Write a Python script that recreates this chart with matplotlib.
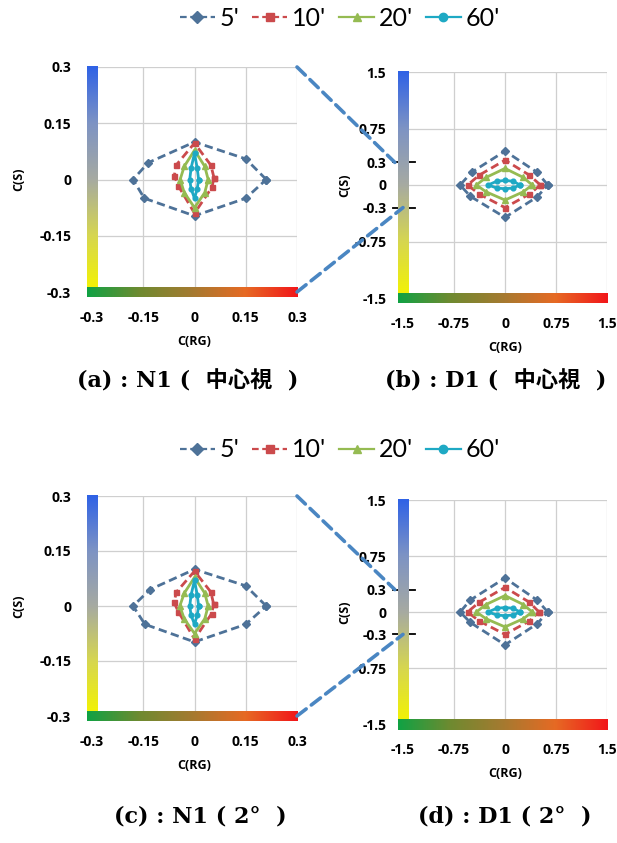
import numpy as np
import matplotlib
matplotlib.use("Agg")
import matplotlib.pyplot as plt
from matplotlib.patches import ConnectionPatch
from matplotlib.colors import LinearSegmentedColormap
from matplotlib.lines import Line2D

plt.rcParams['font.family'] = ['Lato', 'DejaVu Sans']

W, H = 617, 843

series = ["5'", "10'", "20'", "60'"]

# ---- data: C(RG) and C(S) per panel and series (8 directions, loop closed in code)
a_rg = {"5'": [0.21, 0.15, 0.0, -0.135, -0.18, -0.147, 0.0, 0.15],
        "10'": [0.057, 0.048, 0.0, -0.054, -0.059, -0.048, 0.0, 0.051],
        "20'": [0.040, 0.030, 0.0, -0.030, -0.042, -0.030, 0.0, 0.030],
        "60'": [0.012, 0.008, 0.0, -0.010, -0.014, -0.010, 0.0, 0.008]}
a_s = {"5'": [0.0, 0.055, 0.10, 0.045, 0.0, -0.05, -0.097, -0.05],
       "10'": [0.005, 0.038, 0.097, 0.038, 0.01, -0.016, -0.09, -0.021],
       "20'": [0.0, 0.035, 0.078, 0.035, 0.0, -0.035, -0.075, -0.035],
       "60'": [0.0, 0.030, 0.070, 0.030, 0.0, -0.025, -0.050, -0.025]}

b_rg = {"5'": [0.63, 0.47, 0.0, -0.49, -0.66, -0.51, 0.0, 0.47],
        "10'": [0.52, 0.36, 0.0, -0.38, -0.55, -0.38, 0.0, 0.36],
        "20'": [0.40, 0.27, 0.0, -0.28, -0.42, -0.28, 0.0, 0.27],
        "60'": [0.22, 0.12, 0.0, -0.12, -0.25, -0.12, 0.0, 0.12]}
b_s = {"5'": [0.0, 0.17, 0.45, 0.17, 0.0, -0.15, -0.43, -0.16],
       "10'": [0.0, 0.13, 0.33, 0.13, 0.0, -0.12, -0.30, -0.12],
       "20'": [0.0, 0.10, 0.22, 0.10, 0.0, -0.09, -0.20, -0.09],
       "60'": [0.0, 0.05, 0.06, 0.05, 0.0, -0.04, -0.05, -0.04]}

c_rg = {"5'": [0.21, 0.15, 0.0, -0.13, -0.18, -0.145, 0.0, 0.15],
        "10'": [0.056, 0.048, 0.0, -0.053, -0.060, -0.047, 0.0, 0.050],
        "20'": [0.040, 0.030, 0.0, -0.030, -0.043, -0.030, 0.0, 0.030],
        "60'": [0.012, 0.008, 0.0, -0.010, -0.014, -0.010, 0.0, 0.008]}
c_s = {"5'": [0.0, 0.055, 0.10, 0.045, 0.0, -0.05, -0.098, -0.05],
       "10'": [0.005, 0.038, 0.095, 0.038, 0.01, -0.016, -0.09, -0.021],
       "20'": [0.0, 0.035, 0.078, 0.035, 0.0, -0.035, -0.075, -0.035],
       "60'": [0.0, 0.030, 0.070, 0.030, 0.0, -0.025, -0.050, -0.025]}

d_rg = {"5'": [0.63, 0.47, 0.0, -0.51, -0.66, -0.51, 0.0, 0.47],
        "10'": [0.50, 0.36, 0.0, -0.38, -0.55, -0.38, 0.0, 0.36],
        "20'": [0.40, 0.27, 0.0, -0.28, -0.42, -0.28, 0.0, 0.27],
        "60'": [0.22, 0.12, 0.0, -0.12, -0.25, -0.12, 0.0, 0.12]}
d_s = {"5'": [0.0, 0.16, 0.455, 0.16, 0.0, -0.14, -0.44, -0.16],
       "10'": [0.0, 0.13, 0.33, 0.13, 0.0, -0.12, -0.30, -0.12],
       "20'": [0.0, 0.10, 0.22, 0.10, 0.0, -0.09, -0.20, -0.09],
       "60'": [0.0, 0.05, 0.06, 0.05, 0.0, -0.04, -0.05, -0.04]}

small_ticks = [-0.3, -0.15, 0.0, 0.15, 0.3]
small_labels = ["-0.3", "-0.15", "0", "0.15", "0.3"]
big_xticks = [-1.5, -0.75, 0.0, 0.75, 1.5]
big_xlabels = ["-1.5", "-0.75", "0", "0.75", "1.5"]
big_yticks = [-1.5, -0.75, -0.3, 0.0, 0.3, 0.75, 1.5]
big_ylabels = ["-1.5", "-0.75", "-0.3", "0", "0.3", "0.75", "1.5"]
big_grid = [-0.75, 0.0, 0.75, 1.5]
small_grid = [-0.15, 0.0, 0.15, 0.3]
zoom_level = 0.3

captions = ["(a) : N1 (  中心視  )", "(b) : D1 (  中心視  )",
            "(c) : N1 ( 2°  )", "(d) : D1 ( 2°  )"]

styles = {"5'": dict(color='#4e7298', ls=(0, (3, 1.6)), marker='D', ms=3.6),
          "10'": dict(color='#cb4a4c', ls=(0, (3, 1.6)), marker='s', ms=3.6),
          "20'": dict(color='#95bb52', ls='-', marker='^', ms=4.2),
          "60'": dict(color='#1ea9c4', ls='-', marker='o', ms=3.4)}

vert_cmap = LinearSegmentedColormap.from_list(
    'v', ['#f4f400', '#d6d650', '#a6aaa2', '#7d93c4', '#2f62e6'])
horz_cmap = LinearSegmentedColormap.from_list(
    'h', ['#10a244', '#6f8a30', '#a57a30', '#e66a24', '#f2161a'])

TICK_FAMILY = ['Open Sans', 'DejaVu Sans']

fig = plt.figure(figsize=(W / 100, H / 100), dpi=100)


def px_rect(l, t, r, b):
    return [l / W, 1 - b / H, (r - l) / W, (b - t) / H]


def add_bars(ax, rect):
    l, t, r, b = rect
    th = 11
    va = fig.add_axes(px_rect(l - th / 2, t - 1, l + th / 2, b))
    va.imshow(np.linspace(0, 1, 256)[::-1, None], aspect='auto', cmap=vert_cmap)
    va.set_axis_off()
    ha = fig.add_axes(px_rect(l - th / 2, b - th / 2, r, b + th / 2))
    ha.imshow(np.linspace(0, 1, 256)[None, :], aspect='auto', cmap=horz_cmap)
    ha.set_axis_off()


def draw_panel(rect, rg, s, big):
    ax = fig.add_axes(px_rect(*rect))
    lim = 1.5 if big else 0.3
    ax.set_xlim(-lim, lim)
    ax.set_ylim(-lim, lim)
    for sp in ax.spines.values():
        sp.set_visible(False)
    grid = big_grid if big else small_grid
    for g in grid:
        ax.axvline(g, color='#cfcfcf', lw=0.9, zorder=0)
        ax.axhline(g, color='#cfcfcf', lw=0.9, zorder=0)
    for name in series:
        x = np.r_[rg[name], rg[name][:1]]
        y = np.r_[s[name], s[name][:1]]
        st = styles[name]
        ax.plot(x, y, color=st['color'], ls=st['ls'], lw=2.0, marker=st['marker'],
                ms=st['ms'], mfc=st['color'], mec=st['color'], zorder=3)
    tick_font = dict(fontsize=10, fontweight='bold', family=TICK_FAMILY)
    lab_font = dict(fontsize=9, fontweight='bold', family=TICK_FAMILY)
    if big:
        ax.set_xticks(big_xticks)
        ax.set_xticklabels(big_xlabels, **tick_font)
        ax.set_yticks(big_yticks)
        ax.set_yticklabels(big_ylabels, **tick_font)
        ax.tick_params(axis='y', length=0, pad=12)
        ax.tick_params(axis='x', length=0, pad=14)
        for yv in (zoom_level, -zoom_level):
            ax.plot([-0.05, 0.06], [yv, yv], color='black', lw=1.3,
                    transform=ax.get_yaxis_transform(), clip_on=False, zorder=6)
        ax.set_ylabel('C(S)', labelpad=2, **lab_font)
    else:
        ax.set_xticks(small_ticks)
        ax.set_xticklabels(small_labels, **tick_font)
        ax.set_yticks(small_ticks)
        ax.set_yticklabels(small_labels, **tick_font)
        ax.tick_params(axis='y', length=0, pad=15)
        ax.tick_params(axis='x', length=0, pad=14)
        ax.set_ylabel('C(S)', labelpad=10, **lab_font)
    ax.set_xlabel('C(RG)', labelpad=7, **lab_font)
    add_bars(ax, rect)
    return ax


rects = [(92, 67, 297, 292), (403, 72, 607, 298),
         (92, 496, 297, 716), (403, 500, 607, 724)]
data = [(a_rg, a_s, False), (b_rg, b_s, True), (c_rg, c_s, False), (d_rg, d_s, True)]
axes = [draw_panel(r, rg, s, big) for r, (rg, s, big) in zip(rects, data)]

# connectors from small panels to the +-0.3 marks of large panels
for small, big in ((axes[0], axes[1]), (axes[2], axes[3])):
    for ya, yb, xb in ((1.0, zoom_level, -0.04), (0.0, -zoom_level, 0.0)):
        con = ConnectionPatch(xyA=(1.0, ya), coordsA=small.transAxes,
                              xyB=(xb, yb), coordsB=big.get_yaxis_transform(),
                              color='#4a86c2', lw=2.6, ls=(0, (3.2, 1.8)), zorder=10)
        fig.add_artist(con)

# legends
handles = [Line2D([], [], color=styles[n]['color'], ls=styles[n]['ls'], lw=1.6,
                  marker=styles[n]['marker'], ms=6) for n in series]
for yc in (18, 450):
    fig.legend(handles, series, loc='center', bbox_to_anchor=(340 / W, 1 - yc / H),
               ncol=4, frameon=False, fontsize=18, handlelength=1.4,
               columnspacing=0.5, handletextpad=0.2, borderpad=0)

# captions
cap_pos = [(188, 381), (496, 381), (200, 817), (505, 817)]
for (cx, cy), txt in zip(cap_pos, captions):
    fig.text(cx / W, 1 - cy / H, txt, ha='center', va='center', fontsize=16,
             fontweight='bold', family=['DejaVu Serif', 'Noto Sans CJK JP'])

fig.savefig('out.png', dpi=100)
